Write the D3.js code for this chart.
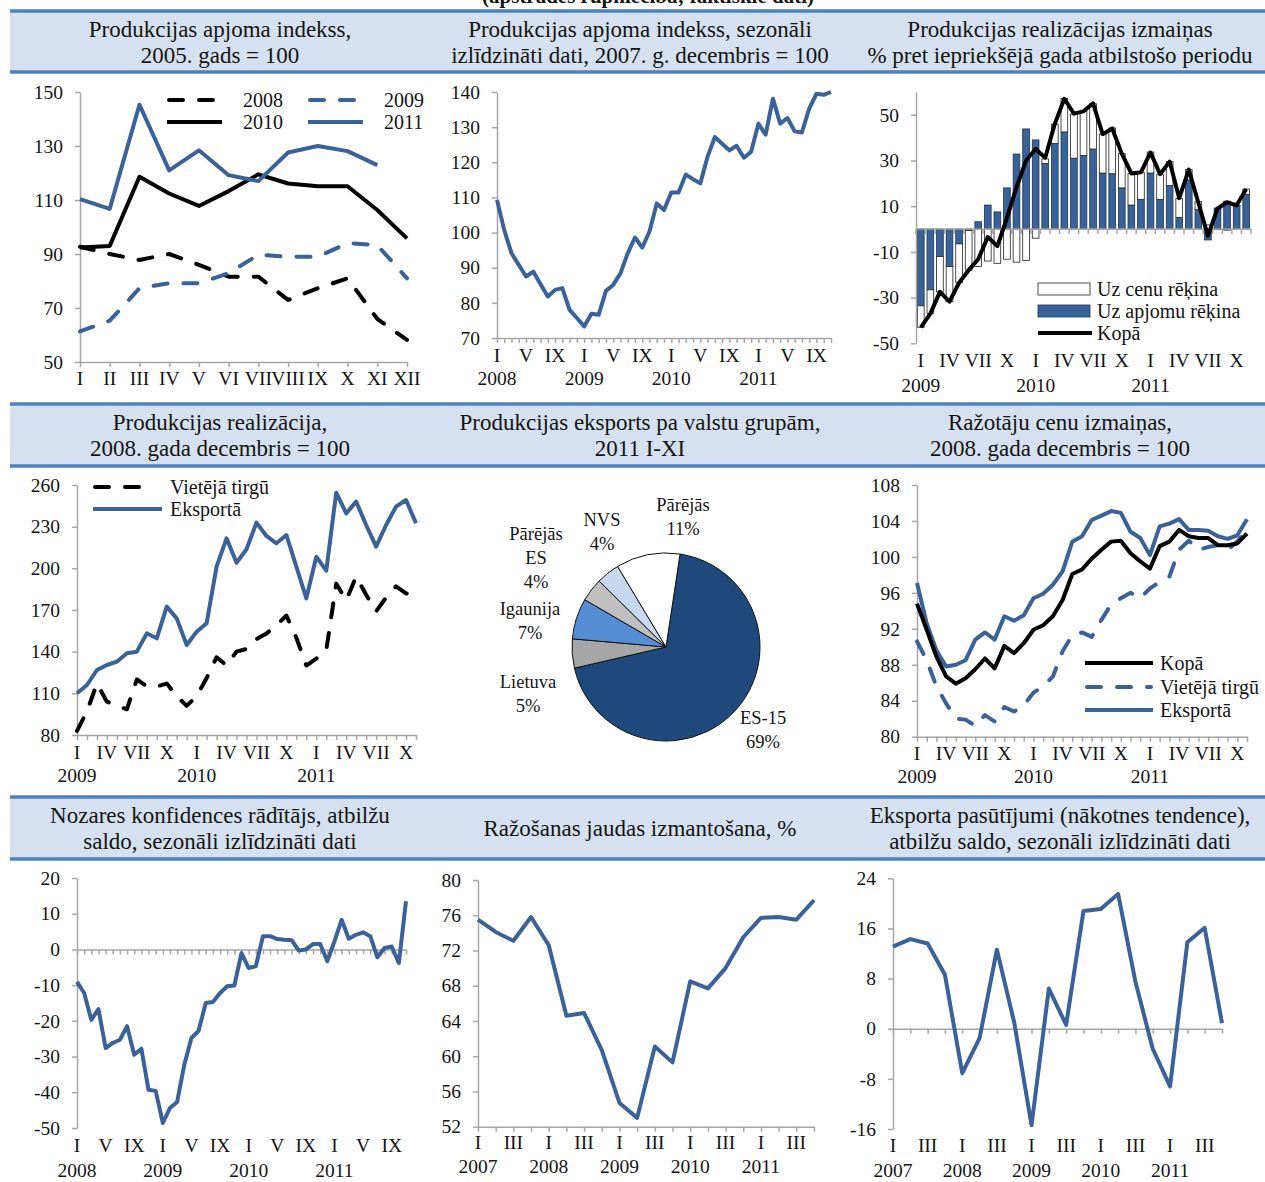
<!DOCTYPE html>
<html>
<head>
<meta charset="utf-8">
<script src="https://cdn.jsdelivr.net/npm/d3@7"></script>
<style>
  body { margin: 0; background: #fff; }
  svg { display: block; }
</style>
</head>
<body>
<svg id="chart" width="1265" height="1182"></svg>
<script>
// ---------- data ----------
const monthsRoman = ["I","II","III","IV","V","VI","VII","VIII","IX","X","XI","XII"];

// panel 1: production volume index, 2005 = 100
const vol2008 = [92.7, 90, 87.8, 90, 86, 81.6, 81.6, 73, 77.3, 81, 66, 58.2];
const vol2009 = [61.3, 65.3, 77.3, 79.2, 79.2, 82.9, 89.7, 89, 89, 94, 93.3, 81];
const vol2010 = [92.4, 93, 118.6, 112.4, 107.8, 113.3, 119.5, 116.1, 115.1, 115.1, 106.3, 95.8];
const vol2011 = [110.3, 106.7, 145.3, 121, 128.4, 119.2, 117, 127.6, 130, 128.1, 122.9];

// panel 2: seasonally adjusted, 2008 I .. 2011 XI
const volSA = [109.3,100.7,94.1,90.8,87.5,88.9,85.3,81.8,83.7,84.2,
  78,75.7,73.3,76.9,76.6,83.4,85.1,88.4,94.1,98.6,
  95.7,100.3,108.3,106.4,111.4,111.4,116.5,115.2,114,121.6,
  127.2,125.3,123.4,124.7,121.3,123,131,127.9,138.1,131,
  132.6,128.8,128.5,135.3,139.5,139.2,140];

// panel 3: sales change decomposition, 2009 I .. 2011 XI
const chgVolume = [-33.6,-26.6,-12,-16.4,-6.5,-0.7,3.2,10.5,7.5,18,
  32.8,43.8,39,28.7,37.5,42.5,31,32.2,35,24.5,
  24.2,18,10.5,13,24.5,13,19,5,21.5,8.5,
  -4.8,9.2,12.2,10.3,15.2];
const chgPrice = [-9.4,-10.3,-15.5,-15.4,-17,-17.3,-16.4,-14,-15,-13.2,
  -14.5,-13.8,-4,2,8.4,14.6,19.3,19.3,19.8,17,
  20,15,13.8,11.8,9.2,10.8,10.5,8.4,4.5,3.5,
  1.8,-0.2,-0.5,0.1,2.3];
const chgTotal = [-43,-37,-27.5,-31.8,-23.5,-18,-13.2,-3.5,-7.5,4.8,
  18.3,30,35,31.2,46,57,50.5,51.5,55,41.5,
  44,33,24.3,24.8,33.5,24,29.5,13.5,26,11.5,
  -3,9,11.7,10.4,17.5];
const chgKeys = ["Uz apjomu rēķina", "Uz cenu rēķina"];

// panel 4: sales, 2008 XII = 100, 2009 I .. 2011 XI
const salesDomestic = [83,97,117,104,101,98.5,120,115,115,117,
  108,101,108,121,136,130,140,142,149,153,
  159,166,150,130,135,141,189,177,194,181,
  169,179,187,182,180];
const salesExport = [110,116,126.8,130.4,132.8,138.8,140,153.2,149.6,172.4,
  164,144.8,154.4,160.4,201.2,221.6,204,213.7,232.9,223.3,
  218,224,201.2,178.4,208.4,198.3,254.5,239.6,248,231.2,
  215.6,231.2,244.4,249.2,232.4];

// panel 5: export by country groups, 2011 I-XI
const exportGroups = ["ES-15", "Lietuva", "Igaunija", "Pārējās ES", "NVS", "Pārējās"];
const exportShares = [69, 5, 7, 4, 4, 11];

// panel 6: producer prices, 2008 XII = 100
const ppiTotal = [94.8,91.9,88.9,86.7,85.9,86.5,87.5,88.7,87.6,90.1,
  89.3,90.4,91.9,92.4,93.4,95.2,98.1,98.6,99.8,100.8,
  101.7,101.8,100.4,99.5,98.7,101.2,101.7,103,102.3,102.1,
  102.1,101.3,101.3,101.5,102.6];
const ppiDomestic = [90.6,88.5,85.6,83.7,82,81.9,81.2,82.4,81.7,83.3,
  82.8,83.5,84.9,85.6,86.7,89.5,91.3,91.6,91.1,93,
  94.7,95.4,96,95.4,96.5,97.2,97.8,100.8,101.8,100.8,
  101.1,101.3,100.8,101.7,103];
const ppiExport = [97.1,92.6,89.6,87.8,88,88.5,90.8,91.6,90.8,93.4,
  92.9,93.5,95.4,95.9,96.9,98.4,101.7,102.3,104.1,104.6,
  105.1,104.9,102.8,102.1,100.2,103.4,103.7,104.2,103,103,
  102.9,102.3,102,102.4,104.2];

// panel 7: industry confidence, 2008 I .. 2011 XI
const confidence = [-9.1,-12.2,-19.7,-16.7,-27.6,-26.2,-25.3,-21.5,-29.5,-27.8,
  -39.3,-39.6,-48.6,-44.4,-42.7,-32.3,-24.8,-22.8,-15,-14.7,
  -12.2,-10.3,-10.1,-1,-5.2,-4.7,3.7,3.7,2.9,2.7,
  2.6,-0.3,0,1.5,1.5,-3.3,2.3,8.3,3,4.1,
  4.8,3.7,-2.2,0.4,0.8,-3.8,13.5];

// panel 8: capacity utilisation, quarterly 2007 I .. 2011 IV
const capacity = [75.5,74.1,73.1,75.8,72.6,64.6,64.9,60.7,54.7,53,
  61.1,59.3,68.5,67.7,70,73.5,75.7,75.8,75.5,77.7];

// panel 9: export orders, quarterly 2007 I .. 2011 IV
const exportOrders = [13.1,14.3,13.6,8.6,-7.1,-1.5,12.6,1,-15.4,6.4,
  0.6,18.8,19.1,21.5,7.5,-3.2,-9.2,13.8,16.1,0.9];

// axis labels
const years0811 = ["2008","2009","2010","2011"];
const years0911 = ["2009","2010","2011"];
const years0711 = ["2007","2008","2009","2010","2011"];
const monthsEvery4 = ["I","V","IX"];
const monthsEvery3 = ["I","IV","VII","X"];
const quartersOdd = ["I","III"];

const titles = [
  ["Produkcijas apjoma indekss,", "2005. gads = 100"],
  ["Produkcijas apjoma indekss, sezonāli", "izlīdzināti dati, 2007. g. decembris = 100"],
  ["Produkcijas realizācijas izmaiņas", "% pret iepriekšējā gada atbilstošo periodu"],
  ["Produkcijas realizācija,", "2008. gada decembris = 100"],
  ["Produkcijas eksports pa valstu grupām,", "2011 I-XI"],
  ["Ražotāju cenu izmaiņas,", "2008. gada decembris = 100"],
  ["Nozares konfidences rādītājs, atbilžu", "saldo, sezonāli izlīdzināti dati"],
  ["Ražošanas jaudas izmantošana, %"],
  ["Eksporta pasūtījumi (nākotnes tendence),", "atbilžu saldo, sezonāli izlīdzināti dati"]
];

// ---------- styles ----------
const FONT = '"Liberation Serif", "Times New Roman", serif';
const BLUE = "#3a6298";
const AXIS = "#a6a6a6";
const INK = "#141414";

const svg = d3.select("#chart");

// heading of the page, cut off at the top edge as in the source
svg.append("text")
  .attr("x", 648).attr("y", 3)
  .attr("text-anchor", "middle")
  .attr("font-family", FONT).attr("font-size", 21).attr("font-weight", "bold")
  .attr("fill", INK)
  .text("(apstrādes rūpniecība; faktiskie dati)");

// header bands
const bands = [[11, 72], [404, 466], [797, 859]];
const colCenters = [220, 640, 1060];
bands.forEach((b, r) => {
  svg.append("rect").attr("x", 10).attr("y", b[0]).attr("width", 1255).attr("height", b[1] - b[0])
    .attr("fill", "#d5e0f0");
  [b[0], b[1]].forEach(yy => {
    svg.append("line").attr("x1", 10).attr("x2", 1265).attr("y1", yy).attr("y2", yy)
      .attr("stroke", "#4f81bd").attr("stroke-width", 3.5);
  });
  colCenters.forEach((cx, c) => {
    const lines = titles[r * 3 + c];
    const mid = (b[0] + b[1]) / 2;
    lines.forEach((t, k) => {
      const cy = lines.length === 1 ? mid : mid - 13 + k * 26;
      svg.append("text")
        .attr("x", cx).attr("y", cy).attr("dy", "0.35em")
        .attr("text-anchor", "middle")
        .attr("font-family", FONT).attr("font-size", 23)
        .attr("fill", INK)
        .text(t);
    });
  });
});

// ---------- helpers ----------
function styleAxis(ax) {
  ax.select(".domain").attr("stroke", AXIS).attr("stroke-width", 1.5);
  ax.selectAll(".tick line").attr("stroke", AXIS).attr("stroke-width", 1.5);
  ax.selectAll(".tick text").attr("font-family", FONT).attr("font-size", 19.5).attr("fill", INK);
}

function label(g, x, y, t, size, anchor) {
  g.append("text")
    .attr("x", x).attr("y", y).attr("dy", "0.35em")
    .attr("text-anchor", anchor || "middle")
    .attr("font-family", FONT).attr("font-size", size || 19.5)
    .attr("fill", INK)
    .text(t);
}

function periodLabels(g, xpos, n, years, perYear, subs, yLab, yYear) {
  const step = perYear / (perYear === 12 ? subs.length : 2);
  years.forEach((yr, yi) => {
    subs.forEach((s, k) => {
      const idx = yi * perYear + k * step;
      if (idx < n) label(g, xpos(idx), yLab, s);
    });
    label(g, xpos(yi * perYear), yYear, yr);
  });
}

function linePanel(cfg) {
  const g = svg.append("g");
  const x = d3.scaleLinear().domain([0, cfg.n - 1]).range(cfg.xRange);
  const y = d3.scaleLinear().domain(cfg.yDomain).range(cfg.yRange);
  const axisY = cfg.zeroAxis ? y(0) : cfg.yRange[0];

  const xa = g.append("g").attr("transform", `translate(0,${axisY})`)
    .call(d3.axisBottom(x).tickValues(d3.range(cfg.n)).tickSize(5).tickSizeOuter(0).tickFormat(""));
  styleAxis(xa);

  const ya = g.append("g").attr("transform", `translate(${cfg.xRange[0]},0)`)
    .call(d3.axisLeft(y).tickValues(cfg.yTicks).tickSize(5).tickSizeOuter(0)
      .tickPadding(12).tickFormat(d => String(d)));
  styleAxis(ya);

  const line = d3.line().x((d, i) => x(i)).y(d => y(d));
  cfg.series.forEach(s => {
    g.append("path").datum(s.values)
      .attr("d", line)
      .attr("fill", "none")
      .attr("stroke", s.color)
      .attr("stroke-width", 4)
      .attr("stroke-linejoin", "round")
      .attr("stroke-linecap", s.dash ? "round" : "butt")
      .attr("stroke-dasharray", s.dash ? "14,16" : null);
  });
  return { g, x, y };
}

function legendLine(g, x1, x2, y, color, dash, text, tx) {
  g.append("line").attr("x1", x1).attr("x2", x2).attr("y1", y).attr("y2", y)
    .attr("stroke", color).attr("stroke-width", 4)
    .attr("stroke-linecap", dash ? "round" : "butt")
    .attr("stroke-dasharray", dash ? "14,16" : null);
  label(g, tx, y, text, 20, "start");
}

// ---------- panel 1 ----------
{
  const p = linePanel({
    n: 12, xRange: [80, 407], yDomain: [50, 150], yRange: [362, 92],
    yTicks: [50, 70, 90, 110, 130, 150],
    series: [
      { values: vol2008, color: "#000", dash: true },
      { values: vol2009, color: BLUE, dash: true },
      { values: vol2010, color: "#000" },
      { values: vol2011, color: BLUE }
    ]
  });
  monthsRoman.forEach((m, i) => label(p.g, p.x(i), 378, m));
  legendLine(p.g, 169, 222, 100, "#000", true, "2008", 243);
  legendLine(p.g, 310, 363, 100, BLUE, true, "2009", 384);
  legendLine(p.g, 167, 222, 122, "#000", false, "2010", 243);
  legendLine(p.g, 308, 363, 122, BLUE, false, "2011", 384);
}

// ---------- panel 2 ----------
{
  const p = linePanel({
    n: volSA.length, xRange: [497, 831], yDomain: [70, 140], yRange: [338, 92],
    yTicks: d3.range(70, 141, 10),
    series: [{ values: volSA, color: BLUE }]
  });
  periodLabels(p.g, p.x, volSA.length, years0811, 12, monthsEvery4, 355, 378);
}

// ---------- panel 3 ----------
{
  const g = svg.append("g");
  const n = chgTotal.length;
  const x = d3.scaleBand().domain(d3.range(n)).range([916, 1251]).paddingInner(0.3).paddingOuter(0.15);
  const y = d3.scaleLinear().domain([-50, 60]).range([343.3, 91.9]);
  const rows = d3.range(n).map(i => ({ [chgKeys[0]]: chgVolume[i], [chgKeys[1]]: chgPrice[i] }));
  const stacked = d3.stack().keys(chgKeys).offset(d3.stackOffsetDiverging)(rows);
  const fills = [BLUE, "#fff"];
  const strokes = ["#1d3656", "#222"];

  stacked.forEach((layer, li) => {
    g.append("g").selectAll("rect").data(layer).join("rect")
      .attr("x", (d, i) => x(i))
      .attr("width", x.bandwidth())
      .attr("y", d => y(Math.max(d[0], d[1])))
      .attr("height", d => Math.abs(y(d[0]) - y(d[1])))
      .attr("fill", fills[li])
      .attr("stroke", strokes[li])
      .attr("stroke-width", 0.8);
  });

  // zero axis with category ticks
  const off = x.step() * 0.15;
  g.append("line").attr("x1", 916).attr("x2", 1251).attr("y1", y(0)).attr("y2", y(0))
    .attr("stroke", AXIS).attr("stroke-width", 1.5);
  d3.range(n + 1).forEach(k => {
    const xx = k < n ? x(k) - off : x(n - 1) + x.bandwidth() + off;
    g.append("line").attr("x1", xx).attr("x2", xx).attr("y1", y(0)).attr("y2", y(0) + 5)
      .attr("stroke", AXIS).attr("stroke-width", 1.5);
  });

  const ya = g.append("g").attr("transform", "translate(916,0)")
    .call(d3.axisLeft(y).tickValues(d3.range(-50, 51, 20)).tickSize(5).tickSizeOuter(0)
      .tickPadding(12).tickFormat(d => String(d)));
  styleAxis(ya);

  g.append("path").datum(chgTotal)
    .attr("d", d3.line().x((d, i) => x(i) + x.bandwidth() / 2).y(d => y(d)))
    .attr("fill", "none").attr("stroke", "#000").attr("stroke-width", 4)
    .attr("stroke-linejoin", "round");

  const cx = i => x(i) + x.bandwidth() / 2;
  periodLabels(g, cx, n, years0911, 12, monthsEvery3, 360, 385);

  // legend
  g.append("rect").attr("x", 1038).attr("y", 283).attr("width", 52).attr("height", 12)
    .attr("fill", "#fff").attr("stroke", "#222").attr("stroke-width", 0.8);
  label(g, 1097, 289, chgKeys[1], 20, "start");
  g.append("rect").attr("x", 1038).attr("y", 305).attr("width", 52).attr("height", 12)
    .attr("fill", BLUE).attr("stroke", "#1d3656").attr("stroke-width", 0.8);
  label(g, 1097, 311, chgKeys[0], 20, "start");
  legendLine(g, 1038, 1092, 333, "#000", false, "Kopā", 1097);
}

// ---------- panel 4 ----------
{
  const p = linePanel({
    n: salesExport.length, xRange: [77, 416], yDomain: [80, 260], yRange: [735, 485],
    yTicks: d3.range(80, 261, 30),
    series: [
      { values: salesDomestic, color: "#000", dash: true },
      { values: salesExport, color: BLUE }
    ]
  });
  periodLabels(p.g, p.x, salesExport.length, years0911, 12, monthsEvery3, 752, 775);
  legendLine(p.g, 95, 148, 487, "#000", true, "Vietējā tirgū", 170);
  legendLine(p.g, 93, 162, 509, BLUE, false, "Eksportā", 170);
}

// ---------- panel 5 (pie) ----------
{
  const g = svg.append("g").attr("transform", "translate(666,647)");
  const r = 94;
  const a0 = 8.6 * Math.PI / 180;
  const pie = d3.pie().sort(null).startAngle(a0).endAngle(a0 + 2 * Math.PI);
  const arc = d3.arc().innerRadius(0).outerRadius(r);
  const sliceColors = ["#1f487c", "#a6a6a6", "#558ed5", "#bfbfbf", "#c6d9f1", "#ffffff"];
  g.selectAll("path").data(pie(exportShares)).join("path")
    .attr("d", arc)
    .attr("fill", (d, i) => sliceColors[i])
    .attr("stroke", "#111").attr("stroke-width", 1);

  // label anchors relative to pie centre (layout only)
  const labelAt = [[97, 71], [-138, 35], [-136, -38], [-130, -113], [-64, -127], [17, -142]];
  exportGroups.forEach((name, i) => {
    const lines = name === "Pārējās ES" ? name.split(" ") : [name];
    lines.push(exportShares[i] + "%");
    lines.forEach((t, k) => label(g, labelAt[i][0], labelAt[i][1] + k * 24, t, 18.5));
  });
}

// ---------- panel 6 ----------
{
  const p = linePanel({
    n: ppiTotal.length, xRange: [917, 1247], yDomain: [80, 108], yRange: [736.7, 485],
    yTicks: d3.range(80, 109, 4),
    series: [
      { values: ppiDomestic, color: BLUE, dash: true },
      { values: ppiExport, color: BLUE },
      { values: ppiTotal, color: "#000" }
    ]
  });
  periodLabels(p.g, p.x, ppiTotal.length, years0911, 12, monthsEvery3, 753, 776);
  legendLine(p.g, 1085, 1153, 663, "#000", false, "Kopā", 1160);
  legendLine(p.g, 1087, 1151, 687, BLUE, true, "Vietējā tirgū", 1160);
  legendLine(p.g, 1085, 1153, 710, BLUE, false, "Eksportā", 1160);
}

// ---------- panel 7 ----------
{
  const p = linePanel({
    n: confidence.length, xRange: [77, 406], yDomain: [-50, 20], yRange: [1128, 878],
    yTicks: d3.range(-50, 21, 10), zeroAxis: true,
    series: [{ values: confidence, color: BLUE }]
  });
  periodLabels(p.g, p.x, confidence.length, years0811, 12, monthsEvery4, 1145, 1170);
}

// ---------- panel 8 ----------
{
  const p = linePanel({
    n: capacity.length, xRange: [478, 814], yDomain: [52, 80], yRange: [1126.7, 880],
    yTicks: d3.range(52, 81, 4),
    series: [{ values: capacity, color: BLUE }]
  });
  periodLabels(p.g, p.x, capacity.length, years0711, 4, quartersOdd, 1142, 1166);
}

// ---------- panel 9 ----------
{
  const p = linePanel({
    n: exportOrders.length, xRange: [893, 1222], yDomain: [-16, 24], yRange: [1129, 878.3],
    yTicks: d3.range(-16, 25, 8), zeroAxis: true,
    series: [{ values: exportOrders, color: BLUE }]
  });
  periodLabels(p.g, p.x, exportOrders.length, years0711, 4, quartersOdd, 1145, 1170);
}
</script>
</body>
</html>
